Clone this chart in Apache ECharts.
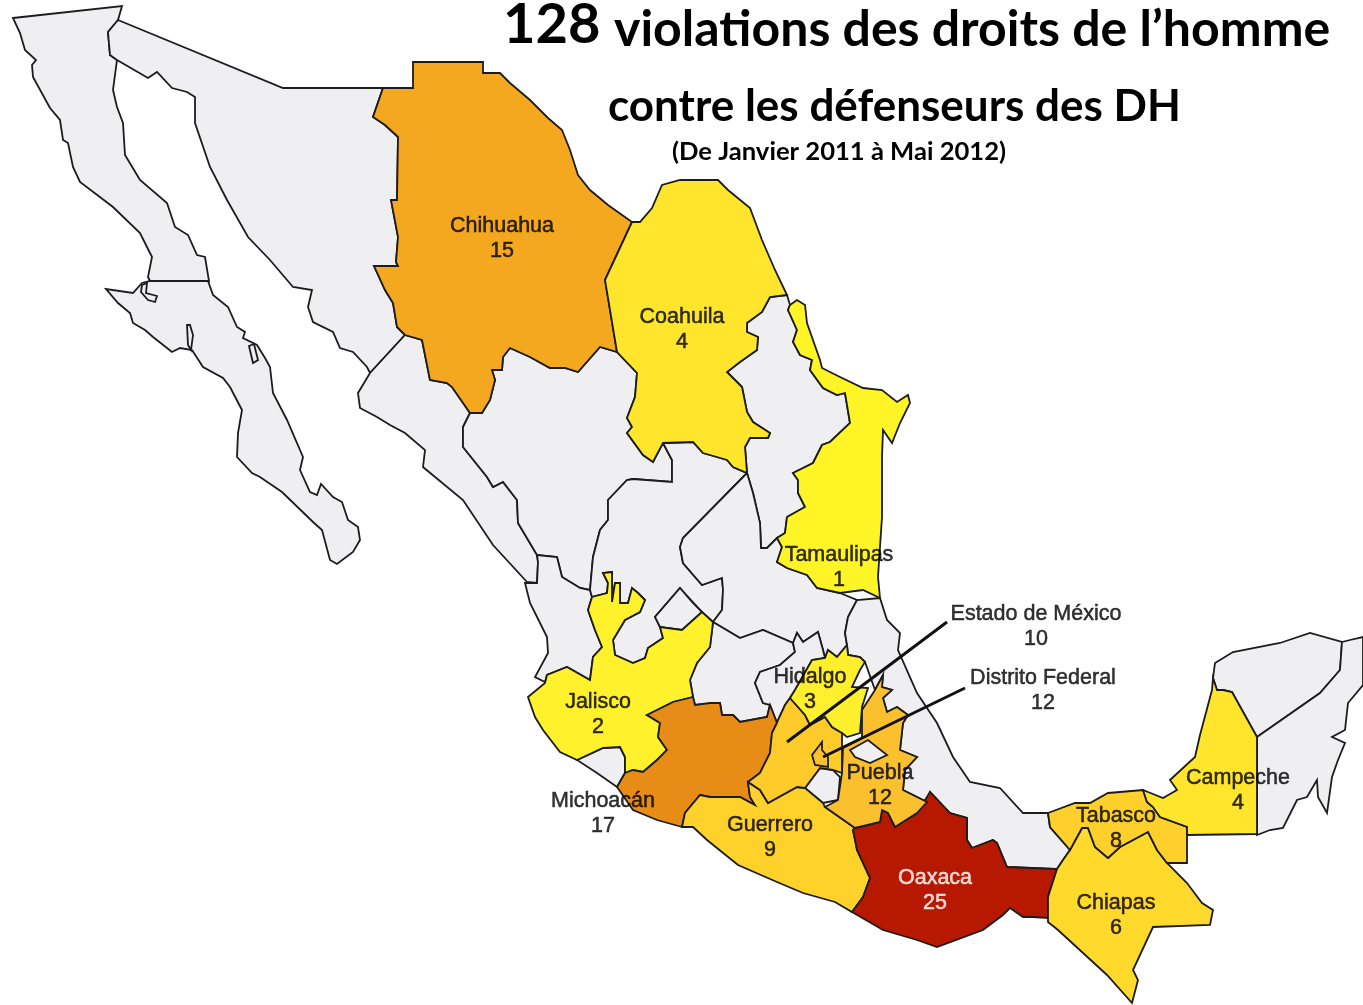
<!DOCTYPE html>
<html>
<head>
<meta charset="utf-8">
<title>128 violations</title>
<style>
html,body{margin:0;padding:0;background:#fff;}
#main{width:1363px;height:1005px;}
</style>
<script src="https://cdn.jsdelivr.net/npm/echarts@6/dist/echarts.min.js"></script>
</head>
<body>
<div id="main"></div>
<script>
//valeurs par etat
var stateNames=['Chihuahua','Coahuila','Tamaulipas','Jalisco','Michoacán','Guerrero','Oaxaca','Chiapas','Tabasco','Campeche','Puebla','Hidalgo','Estado de México','Distrito Federal'];
var stateValues=[15,4,1,2,17,9,25,6,8,4,12,3,10,12];
//position du texte de chaque etat
var labelPoints=[[502,239],[682,330],[839,568],[598,715],[603,814],[770,838],[935,891],[1116,916],[1116,829],[1238,791],[880,786],[810,690],[1036,627],[1043,691]];
//couleur par valeur
var valueSteps=[1,2,3,4,6,8,9,10,12,15,17,25];
var valueColors=['#FFF426','#FFF22D','#FFEF2D','#FFE52B','#FFD92B','#FFCF2B','#FFD22B','#FFCB2A','#FBC02D','#F4A81F','#E68C17','#B71800'];
//traits vers les etats trop petits
var leaderLines=[[[947,622],[787,742]],[[965,688],[823,757]]];
var titleLine1='128',titleLine2='violations des droits de l’homme',titleLine3='contre les défenseurs des DH',titleLine4='(De Janvier 2011 à Mai 2012)';

//contours des etats
var bajaCalifornia=[[13,18],[122,6],[118,20],[108,32],[110,55],[117,60],[113,90],[117,107],[123,123],[125,155],[140,180],[167,203],[175,227],[188,235],[197,255],[205,257],[209,281],[150,281],[148,277],[152,257],[140,233],[113,207],[80,182],[73,167],[68,143],[63,140],[60,120],[50,108],[33,77],[32,65],[36,60],[25,50],[20,33]];
var bajaCaliforniaSur=[[150,281],[208,281],[213,295],[228,307],[237,327],[245,332],[243,338],[257,345],[265,358],[270,367],[273,393],[287,420],[303,457],[300,470],[310,492],[317,495],[321,484],[333,497],[342,502],[348,520],[358,527],[360,540],[353,552],[337,564],[330,560],[322,530],[313,522],[282,492],[260,477],[252,473],[237,457],[238,433],[242,410],[230,387],[223,378],[203,367],[192,350],[180,348],[172,352],[153,337],[145,330],[133,323],[130,313],[118,303],[106,289],[133,293],[142,283]];
var ojoLiebre=[[142,285],[147,283],[146,293],[157,296],[155,302],[148,300],[141,292]];
var sanIgnacio=[[187,325],[190,325],[193,335],[191,350],[188,345]];
var isletaBcs=[[249,346],[254,344],[258,360],[253,363]];
var sonora=[[118,20],[283,88],[383,88],[373,117],[385,125],[398,137],[397,200],[391,200],[398,237],[396,262],[398,266],[374,266],[385,290],[393,303],[397,327],[405,335],[370,373],[367,367],[353,352],[340,348],[333,332],[313,322],[308,307],[312,290],[293,287],[270,260],[248,237],[227,200],[210,167],[195,123],[195,97],[187,92],[172,88],[157,72],[148,78],[117,60],[110,55],[108,32]];
var sinaloa=[[405,335],[422,340],[430,380],[447,383],[452,387],[470,413],[463,427],[463,447],[487,477],[493,487],[503,482],[517,500],[518,523],[537,555],[538,562],[537,583],[527,582],[493,545],[463,500],[423,467],[425,450],[405,433],[390,425],[377,417],[360,408],[358,393],[370,373]];
var durango=[[470,413],[482,413],[490,400],[495,380],[492,370],[502,370],[503,357],[510,348],[530,357],[550,368],[565,368],[578,372],[600,347],[617,352],[637,373],[635,397],[627,418],[632,427],[627,433],[643,455],[653,462],[663,443],[672,460],[672,482],[633,479],[627,480],[608,500],[608,520],[600,530],[593,557],[590,590],[580,588],[562,577],[557,557],[537,555],[518,523],[517,500],[503,482],[493,487],[487,477],[463,447],[463,427]];
var nayarit=[[525,583],[537,583],[538,562],[537,555],[557,557],[562,577],[580,588],[590,590],[592,597],[588,610],[595,630],[602,647],[593,657],[590,680],[567,667],[547,675],[545,682],[535,677],[548,653],[547,637],[530,603]];
var zacatecas=[[663,443],[693,442],[703,453],[717,457],[727,460],[733,467],[747,473],[683,538],[680,547],[683,563],[702,585],[722,578],[723,590],[722,610],[713,622],[702,612],[680,588],[655,617],[660,627],[663,638],[648,648],[645,658],[633,663],[615,655],[613,640],[625,620],[640,612],[645,600],[638,593],[632,588],[628,603],[620,603],[620,583],[615,583],[612,602],[612,572],[603,573],[608,583],[607,593],[592,597],[590,590],[593,557],[600,530],[608,520],[608,500],[627,480],[633,479],[672,482],[672,460]];
var aguascalientes=[[680,588],[692,602],[702,612],[682,630],[660,627],[655,617]];
var nuevoLeon=[[787,295],[790,305],[788,310],[797,330],[793,342],[800,355],[812,360],[810,370],[823,388],[837,395],[845,393],[850,423],[830,442],[822,445],[813,463],[793,473],[798,480],[798,493],[805,507],[787,517],[785,533],[777,538],[767,548],[761,548],[760,523],[753,493],[747,473],[745,447],[750,438],[768,438],[770,433],[753,422],[747,412],[742,387],[727,372],[740,362],[757,350],[758,337],[747,332],[747,323],[762,312],[770,297]];
var sanLuisPotosi=[[747,473],[753,493],[760,523],[761,548],[767,548],[777,538],[782,547],[777,562],[787,568],[807,575],[817,588],[840,593],[857,600],[848,617],[845,633],[847,645],[837,657],[828,650],[825,658],[823,650],[818,632],[803,642],[797,633],[793,643],[763,630],[740,638],[713,622],[722,610],[723,590],[722,578],[702,585],[683,563],[680,547],[683,538]];
var veracruz=[[880,598],[887,620],[900,633],[898,650],[917,693],[937,723],[953,757],[970,782],[1000,788],[1023,813],[1048,813],[1050,827],[1070,850],[1063,860],[1057,869],[1007,867],[997,843],[993,840],[972,848],[967,840],[967,818],[950,813],[930,792],[927,802],[903,790],[905,770],[917,757],[900,750],[903,723],[908,715],[897,707],[887,712],[883,698],[892,690],[882,687],[883,675],[875,690],[865,662],[860,657],[848,655],[847,645],[845,633],[848,617],[857,600]];
var guanajuato=[[713,622],[740,638],[763,630],[793,643],[795,652],[780,665],[760,672],[755,683],[763,703],[770,705],[767,717],[740,722],[733,715],[722,715],[720,703],[695,705],[693,697],[690,680],[697,663],[710,647]];
var queretaro=[[793,643],[797,633],[803,642],[818,632],[823,650],[825,658],[812,660],[795,690],[790,698],[785,705],[777,723],[770,705],[763,703],[755,683],[760,672],[780,665],[795,652]];
var colima=[[577,760],[603,748],[620,747],[625,757],[625,773],[617,787],[597,773]];
var morelos=[[820,768],[805,788],[823,803],[838,800],[840,777],[833,770]];
var yucatan=[[1213,678],[1215,663],[1233,652],[1280,643],[1310,633],[1342,642],[1340,670],[1320,693],[1257,737],[1232,692],[1223,690],[1217,690]];
var quintanaRoo=[[1342,642],[1350,640],[1363,637],[1363,685],[1348,703],[1345,730],[1332,737],[1345,743],[1338,760],[1332,777],[1327,813],[1318,797],[1317,780],[1307,797],[1297,800],[1283,828],[1270,830],[1257,835],[1257,737],[1320,693],[1340,670]];
var chihuahua=[[383,88],[413,88],[413,62],[483,62],[483,73],[500,73],[510,83],[530,100],[548,118],[562,130],[570,150],[578,175],[590,190],[608,205],[632,222],[605,280],[617,352],[600,347],[578,372],[565,368],[550,368],[530,357],[510,348],[503,357],[502,370],[492,370],[495,380],[490,400],[482,413],[470,413],[452,387],[447,383],[430,380],[422,340],[405,335],[397,327],[393,303],[385,290],[374,266],[398,266],[396,262],[398,237],[391,200],[397,200],[398,137],[385,125],[373,117]];
var coahuila=[[632,222],[640,222],[652,208],[662,185],[680,180],[718,180],[728,190],[750,208],[762,240],[775,270],[787,295],[770,297],[762,312],[747,323],[747,332],[758,337],[757,350],[740,362],[727,372],[742,387],[747,412],[753,422],[770,433],[768,438],[750,438],[745,447],[747,473],[733,467],[727,460],[717,457],[703,453],[693,442],[663,443],[653,462],[643,455],[627,433],[632,427],[627,418],[635,397],[637,373],[617,352],[605,280]];
var tamaulipas=[[790,305],[797,300],[805,305],[807,323],[820,360],[822,368],[840,377],[863,388],[882,390],[897,402],[908,395],[910,403],[900,423],[892,443],[883,430],[882,457],[882,480],[882,517],[878,577],[880,598],[863,590],[840,593],[817,588],[807,575],[787,568],[777,562],[782,547],[777,538],[785,533],[787,517],[805,507],[798,493],[798,480],[793,473],[813,463],[822,445],[830,442],[850,423],[845,393],[837,395],[823,388],[810,370],[812,360],[800,355],[793,342],[797,330],[788,310]];
var jalisco=[[528,697],[545,683],[547,675],[567,667],[590,680],[593,657],[602,647],[595,630],[588,610],[592,597],[607,593],[608,583],[603,573],[612,572],[612,602],[615,583],[620,583],[620,603],[628,603],[632,588],[638,593],[645,600],[640,612],[625,620],[613,640],[615,655],[633,663],[645,658],[648,648],[663,638],[660,627],[682,630],[702,612],[713,622],[710,647],[697,663],[690,680],[693,697],[673,702],[647,715],[660,723],[658,737],[667,750],[657,760],[643,772],[633,770],[625,773],[625,757],[620,747],[603,748],[577,760],[560,752],[543,730],[535,717]];
var michoacan=[[647,715],[673,702],[693,697],[695,705],[710,703],[720,703],[722,715],[733,715],[740,722],[767,717],[770,705],[777,723],[772,733],[770,753],[760,773],[748,782],[750,797],[755,805],[740,797],[710,797],[700,795],[685,813],[682,827],[657,820],[633,810],[617,787],[625,773],[633,770],[643,772],[657,760],[667,750],[658,737],[660,723]];
var guerrero=[[682,827],[685,813],[700,795],[710,797],[740,797],[755,805],[750,797],[748,782],[760,790],[768,803],[797,787],[805,788],[823,803],[825,807],[855,828],[853,830],[857,850],[870,878],[863,897],[852,912],[835,902],[803,893],[777,882],[738,865],[707,840],[693,827]];
var oaxaca=[[853,830],[855,828],[880,822],[882,810],[888,813],[895,827],[917,813],[930,792],[950,813],[967,818],[967,840],[972,848],[993,840],[997,843],[1007,867],[1057,869],[1048,897],[1048,918],[1033,917],[1023,917],[1010,908],[1003,915],[983,930],[937,947],[917,940],[883,930],[852,912],[863,897],[870,878],[857,850]];
var chiapas=[[1057,869],[1063,860],[1070,850],[1082,828],[1088,828],[1095,847],[1108,858],[1120,847],[1148,832],[1157,850],[1167,863],[1187,883],[1202,903],[1213,910],[1210,925],[1153,927],[1133,970],[1138,980],[1132,1003],[1107,975],[1058,930],[1048,922],[1048,897]];
var tabasco=[[1048,813],[1075,803],[1090,803],[1108,793],[1120,792],[1143,790],[1147,802],[1153,807],[1160,817],[1187,827],[1187,863],[1167,863],[1157,850],[1148,832],[1120,847],[1108,858],[1095,847],[1088,828],[1082,828],[1070,850],[1050,827]];
var campeche=[[1213,678],[1212,690],[1200,735],[1195,757],[1170,780],[1177,790],[1163,798],[1148,792],[1143,790],[1147,802],[1153,807],[1160,817],[1187,827],[1187,835],[1257,834],[1257,737],[1232,692],[1223,690],[1217,690]];
var mexicoState=[[778,720],[785,705],[790,698],[805,715],[810,725],[825,717],[832,727],[842,733],[842,773],[833,770],[820,768],[805,788],[797,787],[768,803],[760,790],[748,782],[760,773],[770,753],[772,733],[777,723]];
var distritoFederal=[[822,742],[812,755],[815,765],[828,767],[828,757],[822,750]];
var puebla=[[883,675],[882,687],[892,690],[883,698],[887,712],[897,707],[908,715],[903,723],[900,750],[917,757],[905,770],[903,790],[927,802],[917,813],[895,827],[888,813],[882,810],[880,822],[855,828],[825,807],[838,800],[842,773],[843,748],[862,738],[862,733],[862,710],[875,690]];
var hidalgo=[[847,645],[848,655],[860,657],[865,662],[860,670],[852,687],[868,688],[862,707],[860,733],[847,737],[842,733],[832,727],[825,717],[810,725],[805,715],[790,698],[795,690],[812,660],[825,658],[828,650],[837,657]];
var tlaxcala=[[850,750],[868,740],[887,755],[870,763],[855,757]];

var shapes=[
    ['Baja California',bajaCalifornia],['Baja California Sur',bajaCaliforniaSur],['Ojo de Liebre',ojoLiebre],['San Ignacio',sanIgnacio],['Isleta',isletaBcs],['Sonora',sonora],['Sinaloa',sinaloa],['Durango',durango],['Nayarit',nayarit],
    ['Zacatecas',zacatecas],['Aguascalientes',aguascalientes],['Nuevo León',nuevoLeon],['San Luis Potosí',sanLuisPotosi],['Veracruz',veracruz],['Guanajuato',guanajuato],
    ['Querétaro',queretaro],['Colima',colima],['Morelos',morelos],['Yucatán',yucatan],['Quintana Roo',quintanaRoo],['Chihuahua',chihuahua],['Coahuila',coahuila],
    ['Tamaulipas',tamaulipas],['Jalisco',jalisco],['Michoacán',michoacan],['Guerrero',guerrero],['Oaxaca',oaxaca],['Chiapas',chiapas],['Tabasco',tabasco],['Campeche',campeche],
    ['Estado de México',mexicoState],['Distrito Federal',distritoFederal],['Puebla',puebla],['Hidalgo',hidalgo],['Tlaxcala',tlaxcala]
];
function buildGeoJson(){
    var features=[];
    for(var i=0;i<shapes.length;i++){
        var ring=shapes[i][1].concat([shapes[i][1][0]]);
        features.push({type:'Feature',properties:{name:shapes[i][0]},geometry:{type:'Polygon',coordinates:[ring]}});
    }
    return {type:'FeatureCollection',features:features};
}
echarts.registerMap('mexique',buildGeoJson());

var mapData=[],labelData=[],pieces=[];
for(var i=0;i<stateNames.length;i++){
    var txtColor=stateNames[i]=='Oaxaca'?'#fff':'#000';
    mapData.push({name:stateNames[i],value:stateValues[i]});
    labelData.push({name:stateNames[i],value:[labelPoints[i][0],labelPoints[i][1],stateValues[i]],
        label:{color:txtColor,textBorderColor:txtColor,textBorderWidth:0.5}});
}
for(var j=0;j<valueSteps.length;j++){
    pieces.push({value:valueSteps[j],color:valueColors[j]});
}
var lineData=[];
for(var k=0;k<leaderLines.length;k++){
    lineData.push({coords:leaderLines[k]});
}
var titleFont='Lato';
var chart=echarts.init(document.getElementById('main'),null,{renderer:'canvas'});
var option={
    animation:false,
    backgroundColor:'#fff',
    title:[
        {text:titleLine1,left:503,top:-3,padding:0,textStyle:{fontFamily:titleFont,fontWeight:700,fontSize:56,color:'#000'}},
        {text:titleLine2,left:614,top:5,padding:0,textStyle:{fontFamily:titleFont,fontWeight:700,fontSize:50,color:'#000'}},
        {text:titleLine3,left:608,top:85,padding:0,textStyle:{fontFamily:titleFont,fontWeight:700,fontSize:44,color:'#000'}},
        {text:titleLine4,left:672,top:139,padding:0,textStyle:{fontFamily:titleFont,fontWeight:700,fontSize:25.6,color:'#000'}}
    ],
    visualMap:{type:'piecewise',show:false,seriesIndex:0,pieces:pieces},
    geo:{
        map:'mexique',
        silent:true,
        roam:false,
        projection:{project:function(p){return p;},unproject:function(p){return p;}},
        boundingCoords:[[0,0],[1363,1005]],
        layoutCenter:['50%','50%'],
        layoutSize:1363,
        label:{show:false},
        itemStyle:{areaColor:'#EFEFF1',borderColor:'#1c1c1c',borderWidth:1.8}
    },
    series:[
        {type:'map',geoIndex:0,data:mapData,silent:true},
        {type:'lines',coordinateSystem:'geo',geoIndex:0,silent:true,z:3,data:lineData,lineStyle:{color:'#111',width:3,opacity:1,curveness:0}},
        {type:'scatter',coordinateSystem:'geo',geoIndex:0,silent:true,z:4,symbolSize:0,data:labelData,
            label:{show:true,position:'inside',fontFamily:'Liberation Sans',fontSize:21.5,lineHeight:25,align:'center',verticalAlign:'middle',
                formatter:function(p){return p.name+'\n'+p.value[2];}}}
    ]
};
chart.setOption(option);
</script>
</body>
</html>
